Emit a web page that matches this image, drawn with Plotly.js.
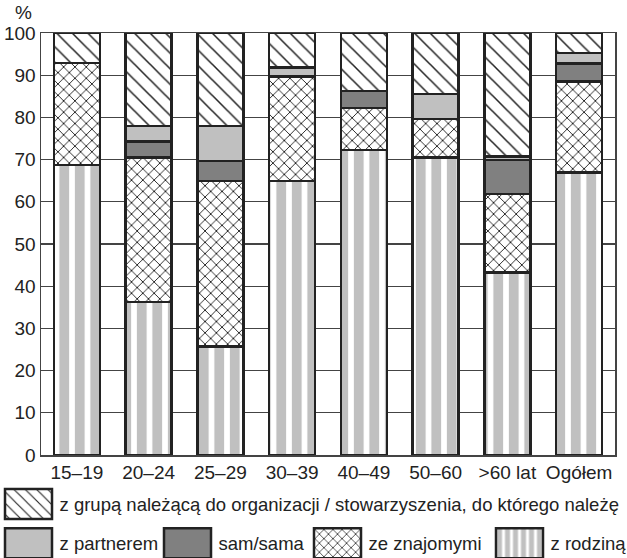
<!DOCTYPE html>
<html><head><meta charset="utf-8">
<script src="https://cdn.plot.ly/plotly-3.0.1.min.js"></script>
<style>body{margin:0;padding:0;background:#fff}#chart{width:627px;height:558px}</style>
</head><body><div id="chart"></div>
<script>
const categories = ["15–19","20–24","25–29","30–39","40–49","50–60",">60 lat","Ogółem"];
const rodzina   = [68.7, 36.3, 25.7, 64.9, 72.3, 70.5, 43.2, 66.9];
const znajomymi = [24.2, 34.2, 39.2, 24.8,  9.9,  9.1, 18.6, 21.6];
const samSama   = [ 0.0,  3.8,  4.8,  0.0,  4.1,  0.0,  8.1,  4.3];
const partner   = [ 0.0,  3.7,  8.3,  2.1,  0.0,  5.9,  0.8,  2.5];
const grupa     = [ 7.1, 22.0, 22.0,  8.2, 13.7, 14.5, 29.3,  4.7];
const names = ["z rodziną","ze znajomymi","sam/sama","z partnerem","z grupą należącą do organizacji / stowarzyszenia, do którego należę"];

const FONT = "Arial, 'Liberation Sans', sans-serif";
const line = {color:"#222", width:2.5};
const mk = (name, y, marker, legend) => ({type:"bar", name, x:categories, y, legend, marker:Object.assign({line}, marker), hoverinfo:"y"});

const traces = [
  mk(names[0], rodzina, {color:"#ffffff", pattern:{shape:"|", fgcolor:"#c0c0c0", bgcolor:"#ffffff", fgopacity:1, size:15.5, solidity:0.63, fillmode:"overlay"}}, "legend5"),
  mk(names[1], znajomymi, {color:"#ffffff", pattern:{shape:"x", fgcolor:"#222", bgcolor:"#ffffff", fgopacity:1, size:8, solidity:0.22, fillmode:"overlay"}}, "legend4"),
  mk(names[2], samSama, {color:"#808080"}, "legend3"),
  mk(names[3], partner, {color:"#c0c0c0"}, "legend2"),
  mk(names[4], grupa, {color:"#ffffff", pattern:{shape:"\\", fgcolor:"#222", bgcolor:"#ffffff", fgopacity:1, size:11, solidity:0.14, fillmode:"overlay"}}, "legend")
];

const L = 41, R = 12, T = 33, B = 103;
const PW = 627 - L - R, PH = 558 - T - B;
const legFont = {family:FONT, size:18.5, color:"#222"};
const leg = (leftPx, yPaper) => ({orientation:"h", x:(leftPx - L)/PW, xanchor:"left", y:yPaper, yanchor:"top",
  font:legFont, itemwidth:52, bgcolor:"rgba(0,0,0,0)"});
const row1 = -0.072, row2 = -0.165;

const layout = {
  width:627, height:558,
  margin:{l:L, r:R, t:T, b:B, autoexpand:false},
  barmode:"stack", bargap:0.36,
  paper_bgcolor:"#fff", plot_bgcolor:"#fff",
  font:{family:FONT, size:19, color:"#222"},
  showlegend:true,
  legend:  leg(-2.5, row1),
  legend2: leg(-2.5, row2),
  legend3: leg(156.5, row2),
  legend4: leg(306.5, row2),
  legend5: leg(488.5, row2),
  xaxis:{showline:true, linecolor:"#444", linewidth:1.5, mirror:true, ticks:"", tickfont:{size:19, family:FONT, color:"#222"}, showgrid:false},
  yaxis:{range:[0,100], dtick:10, showgrid:true, gridcolor:"#444", gridwidth:1.2, showline:true, linecolor:"#444", linewidth:1.5, mirror:true,
         ticks:"", tickfont:{size:19, family:FONT, color:"#222"}, zeroline:false},
  annotations:[{text:"%", xref:"paper", yref:"paper", x:(13-L)/PW, y:(455-13)/PH, xanchor:"left", yanchor:"middle", showarrow:false, font:{size:19, family:FONT, color:"#222"}}]
};

const gd = document.getElementById("chart");
function bigSwatches() {
  // enlarge legend swatches to the box size used in the original legend
  gd.querySelectorAll(".legendpoints path").forEach(p => {
    const d = p.getAttribute("d") || "";
    if (d.indexOf("M6,6H-6V-6H6Z") === 0 || p.classList.contains("legendbar")) {
      p.setAttribute("d", "M23.5,15H-23.5V-15H23.5Z");
    }
  });
  gd.querySelectorAll(".infolayer [clip-path]").forEach(e => e.removeAttribute("clip-path"));
}
Plotly.newPlot(gd, traces, layout, {displayModeBar:false, staticPlot:true}).then(() => {
  bigSwatches();
  gd.on && gd.on("plotly_afterplot", bigSwatches);
  setTimeout(bigSwatches, 50);
  setTimeout(bigSwatches, 300);
});
</script></body></html>
